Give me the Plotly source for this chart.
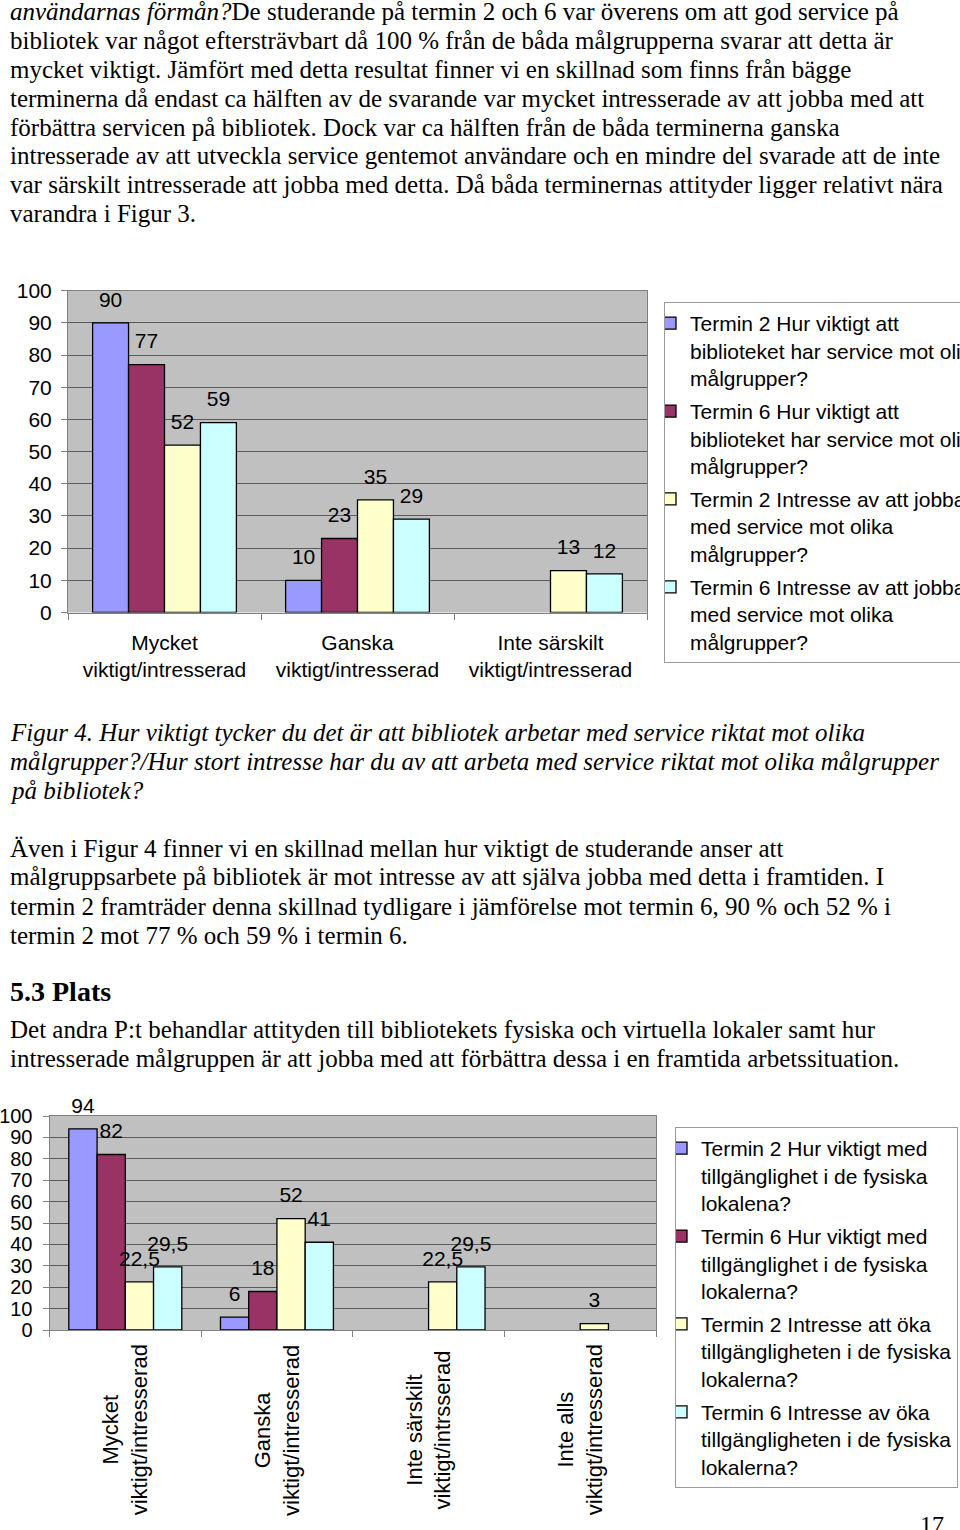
import plotly.graph_objects as go

W, H = 960, 1530

# ---------------- data ----------------
cats1 = ["Mycket viktigt/intresserad", "Ganska viktigt/intresserad", "Inte särskilt viktigt/intresserad"]
cat1_ticktext = ["Mycket<br>viktigt/intresserad", "Ganska<br>viktigt/intresserad", "Inte särskilt<br>viktigt/intresserad"]
t2_hur_1 = [90, 10, None]
t6_hur_1 = [77, 23, None]
t2_int_1 = [52, 35, 13]
t6_int_1 = [59, 29, 12]
names1 = [
    "Termin 2 Hur viktigt att<br>biblioteket har service mot olika<br>målgrupper?",
    "Termin 6 Hur viktigt att<br>biblioteket har service mot olika<br>målgrupper?",
    "Termin 2 Intresse av att jobba<br>med service mot olika<br>målgrupper?",
    "Termin 6 Intresse av att jobba<br>med service mot olika<br>målgrupper?",
]

cats2 = ["Mycket viktigt/intresserad", "Ganska viktigt/intresserad",
         "Inte särskilt viktigt/intrsserad", "Inte alls viktigt/intresserad"]
cat2_labels = ["Mycket<br>viktigt/intresserad", "Ganska<br>viktigt/intresserad",
               "Inte särskilt<br>viktigt/intrsserad", "Inte alls<br>viktigt/intresserad"]
t2_hur_2 = [94, 6, None, None]
t6_hur_2 = [82, 18, None, None]
t2_int_2 = [22.5, 52, 22.5, 3]
t6_int_2 = [29.5, 41, 29.5, None]
names2 = [
    "Termin 2 Hur viktigt med<br>tillgänglighet i de fysiska<br>lokalena?",
    "Termin 6 Hur viktigt med<br>tillgänglighet i de fysiska<br>lokalerna?",
    "Termin 2 Intresse att öka<br>tillgängligheten i de fysiska<br>lokalerna?",
    "Termin 6 Intresse av öka<br>tillgängligheten i de fysiska<br>lokalerna?",
]

yticks = list(range(0, 101, 10))
colors = ["#9999FF", "#993366", "#FFFFCC", "#CCFFFF"]

para1 = [
    "<i>användarnas förmån?</i>De studerande på termin 2 och 6 var överens om att god service på",
    "bibliotek var något eftersträvbart då 100 % från de båda målgrupperna svarar att detta är",
    "mycket viktigt. Jämfört med detta resultat finner vi en skillnad som finns från bägge",
    "terminerna då endast ca hälften av de svarande var mycket intresserade av att jobba med att",
    "förbättra servicen på bibliotek. Dock var ca hälften från de båda terminerna ganska",
    "intresserade av att utveckla service gentemot användare och en mindre del svarade att de inte",
    "var särskilt intresserade att jobba med detta. Då båda terminernas attityder ligger relativt nära",
    "varandra i Figur 3.",
]
caption = [
    "Figur 4. Hur viktigt tycker du det är att bibliotek arbetar med service riktat mot olika",
    "målgrupper?/Hur stort intresse har du av att arbeta med service riktat mot olika målgrupper",
    "på bibliotek?",
]
para2 = [
    "Även i Figur 4 finner vi en skillnad mellan hur viktigt de studerande anser att",
    "målgruppsarbete på bibliotek är mot intresse av att själva jobba med detta i framtiden. I",
    "termin 2 framträder denna skillnad tydligare i jämförelse mot termin 6, 90 % och 52 % i",
    "termin 2 mot 77 % och 59 % i termin 6.",
]
heading = "5.3 Plats"
para3 = [
    "Det andra P:t behandlar attityden till bibliotekets fysiska och virtuella lokaler samt hur",
    "intresserade målgruppen är att jobba med att förbättra dessa i en framtida arbetssituation.",
]
page_no = "17"

SANS = "Liberation Sans, Arial, sans-serif"
SERIF = "Liberation Serif, Times New Roman, serif"


def px(x):
    return x / W


def py(y):
    return 1 - y / H


def fmt(v):
    if v is None:
        return ""
    return f"{v:g}".replace(".", ",")


fig = go.Figure()

series1 = [t2_hur_1, t6_hur_1, t2_int_1, t6_int_1]
series2 = [t2_hur_2, t6_hur_2, t2_int_2, t6_int_2]

for k, (cats, series, names, xa, ya, leg, lblsize) in enumerate([
        (cats1, series1, names1, "x", "y", "legend", 21),
        (cats2, series2, names2, "x2", "y2", "legend2", 21)]):
    for i, (vals, name, col) in enumerate(zip(series, names, colors)):
        fig.add_trace(go.Bar(
            x=cats, y=vals, name=name, xaxis=xa, yaxis=ya,
            marker=dict(color=col, line=dict(color="#000000", width=1.3)),
            offsetgroup=f"g{i}", legend=leg, legendgroup=f"{leg}_{i}",
            hoverinfo="skip"))
        fig.add_trace(go.Scatter(
            x=cats, y=vals, xaxis=xa, yaxis=ya, mode="markers+text",
            text=[fmt(v) for v in vals], textposition="top center",
            textfont=dict(family=SANS, size=lblsize, color="#000000"),
            marker=dict(size=16, color="rgba(0,0,0,0)"),
            offsetgroup=f"g{i}", showlegend=False, cliponaxis=False,
            hoverinfo="skip"))

annotations = []


def add_lines(lines, y0, step, size, family=SERIF, italic=False, x0=8):
    for j, t in enumerate(lines):
        txt = f"<i>{t}</i>" if italic else t
        annotations.append(dict(
            text=txt, x=px(x0), y=py(y0 + j * step), xref="paper", yref="paper",
            xanchor="left", yanchor="middle", showarrow=False,
            font=dict(family=family, size=size, color="#000000")))


add_lines(para1, 12, 28.75, 25)
add_lines(caption, 732, 29, 25, italic=True)
add_lines(para2, 848, 29, 25)
add_lines([f"<b>{heading}</b>"], 991, 29, 28)
add_lines(para3, 1029, 29, 25)
annotations.append(dict(text=page_no, x=px(918), y=py(1524), xref="paper", yref="paper",
                        xanchor="left", yanchor="middle", showarrow=False,
                        font=dict(family=SERIF, size=24, color="#000000")))

for c, lab in zip(cats2, cat2_labels):
    annotations.append(dict(
        text=lab, x=c, xref="x2", y=py(1430), yref="paper", textangle=-90,
        xanchor="center", yanchor="middle", align="center", showarrow=False,
        font=dict(family=SANS, size=22, color="#000000")))

axis_common = dict(showline=True, linecolor="#808080", linewidth=1, mirror=True,
                   ticks="outside", ticklen=6, tickcolor="#808080")

legend_common = dict(xanchor="left", yanchor="top", bgcolor="#FFFFFF",
                     bordercolor="#9a9a9a", borderwidth=1, valign="top",
                     tracegroupgap=3, indentation=-15,
                     font=dict(family=SANS, size=21, color="#000000"))

fig.update_layout(
    width=W, height=H,
    margin=dict(l=0, r=0, t=0, b=0, pad=0, autoexpand=False),
    paper_bgcolor="#FFFFFF", plot_bgcolor="#C0C0C0",
    barmode="group", bargap=0.255, scattermode="group",
    showlegend=True,
    font=dict(family=SANS, color="#000000"),
    xaxis=dict(domain=[px(68), px(647)], anchor="y", type="category",
               categoryarray=cats1, tickvals=cats1, ticktext=cat1_ticktext,
               tickson="boundaries", showgrid=False,
               tickfont=dict(family=SANS, size=21), ticklabelstandoff=11,
               **axis_common),
    yaxis=dict(domain=[py(612.5), py(290.7)], anchor="x", range=[0, 100],
               tickvals=yticks, showgrid=True, gridcolor="#5a5a5a", gridwidth=1,
               zeroline=False, tickfont=dict(family=SANS, size=21),
               ticklabelstandoff=5, **axis_common),
    xaxis2=dict(domain=[px(49.5), px(656)], anchor="y2", type="category",
                categoryarray=cats2, tickson="boundaries", showgrid=False,
                showticklabels=False, **axis_common),
    yaxis2=dict(domain=[py(1330), py(1116)], anchor="x2", range=[0, 100],
                tickvals=yticks, showgrid=True, gridcolor="#5a5a5a", gridwidth=1,
                zeroline=False, tickfont=dict(family=SANS, size=20),
                ticklabelstandoff=6, **axis_common),
    legend=dict(x=px(664), y=py(302), **legend_common),
    legend2=dict(x=px(675), y=py(1127), **legend_common),
    annotations=annotations,
)

fig.write_html("out.html")
